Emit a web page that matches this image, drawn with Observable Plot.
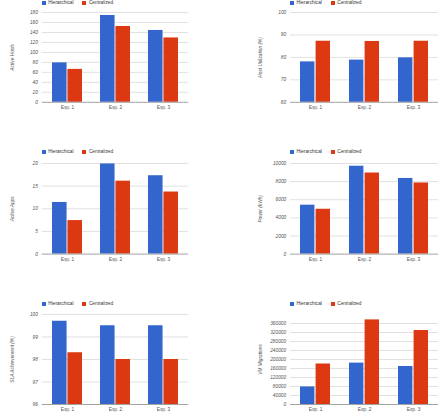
<!DOCTYPE html>
<html>
<head>
<meta charset="utf-8">
<script src="https://cdn.jsdelivr.net/npm/d3@7"></script>
<script src="https://cdn.jsdelivr.net/npm/@observablehq/plot@0.6"></script>
<style>
  html, body { margin: 0; padding: 0; background: #fff; }
  #board { position: relative; width: 441px; height: 416px; overflow: hidden; background: #fff;
           font-family: "Liberation Sans", Arial, sans-serif; }
  .panel { position: absolute; }
  .legend { position: absolute; display: flex; align-items: center; font-size: 4.8px; color: #333;
            height: 6px; line-height: 6px; white-space: nowrap; }
  .legend .item { display: flex; align-items: center; width: 40.6px; }
  .legend .sw { width: 4px; height: 4px; margin-right: 2.6px; flex: none; }
</style>
</head>
<body>
<div id="board"></div>
<script>
// Experiments and the two management approaches compared
const experiments = ["Exp. 1", "Exp. 2", "Exp. 3"];
const seriesNames = ["Hierarchical", "Centralized"];
const seriesColors = ["#3366cc", "#dc3912"];

// Active hosts
const activeHostsHierarchical = [79, 174, 144];
const activeHostsCentralized = [66, 152, 129];
const activeHostsTicks = [0, 20, 40, 60, 80, 100, 120, 140, 160, 180];

// Host utilization (%)
const hostUtilHierarchical = [78, 78.8, 79.8];
const hostUtilCentralized = [87.2, 87.1, 87.2];
const hostUtilTicks = [60, 70, 80, 90, 100];

// Active apps
const activeAppsHierarchical = [11.4, 19.9, 17.3];
const activeAppsCentralized = [7.4, 16.1, 13.7];
const activeAppsTicks = [0, 5, 10, 15, 20];

// Power (kWh)
const powerHierarchical = [5400, 9700, 8350];
const powerCentralized = [4950, 8950, 7850];
const powerTicks = [0, 2000, 4000, 6000, 8000, 10000];

// SLA achievement (%)
const slaHierarchical = [99.7, 99.5, 99.5];
const slaCentralized = [98.3, 98.0, 98.0];
const slaTicks = [96, 97, 98, 99, 100];

// VM migrations
const migrationsHierarchical = [78000, 184000, 169000];
const migrationsCentralized = [180000, 376000, 329000];
const migrationsTicks = [0, 40000, 80000, 120000, 160000, 200000, 240000, 280000, 320000, 360000];

const panels = [
  {title: "Active Hosts", h: activeHostsHierarchical, c: activeHostsCentralized, ticks: activeHostsTicks, domain: [0, 180], col: 0, row: 0},
  {title: "Host Utilization (%)", h: hostUtilHierarchical, c: hostUtilCentralized, ticks: hostUtilTicks, domain: [60, 100], col: 1, row: 0},
  {title: "Active Apps", h: activeAppsHierarchical, c: activeAppsCentralized, ticks: activeAppsTicks, domain: [0, 20], col: 0, row: 1},
  {title: "Power (kWh)", h: powerHierarchical, c: powerCentralized, ticks: powerTicks, domain: [0, 10000], col: 1, row: 1},
  {title: "SLA Achievement (%)", h: slaHierarchical, c: slaCentralized, ticks: slaTicks, domain: [96, 100], col: 0, row: 2},
  {title: "VM Migrations", h: migrationsHierarchical, c: migrationsCentralized, ticks: migrationsTicks, domain: [0, 400000], col: 1, row: 2}
];

// Grid layout: chart area edges for each column and row
const columns = [
  {cellX: 0, left: 41.7, right: 188.2, marginRight: 10},
  {cellX: 220, left: 290, right: 438, marginRight: 3}
];
const rows = [
  {top: 11.5, bottom: 101.3},
  {top: 162.7, bottom: 253.3},
  {top: 314.3, bottom: 404.3}
];

const board = document.getElementById("board");
const MT = 4, MB = 12;
const padInner = 0.38, padOuter = padInner / 2;

for (const p of panels) {
  const col = columns[p.col], row = rows[p.row];
  const width = col.right - col.cellX + col.marginRight;
  const height = row.bottom - row.top + MT + MB;
  const step = (col.right - col.left) / experiments.length;
  const half = step * (1 - padInner) / 2;
  const base = p.domain[0];

  const rowsH = experiments.map((exp, i) => ({exp, value: p.h[i]}));
  const rowsC = experiments.map((exp, i) => ({exp, value: p.c[i]}));

  const chart = Plot.plot({
    width, height,
    marginLeft: col.left - col.cellX,
    marginRight: col.marginRight,
    marginTop: MT,
    marginBottom: MB,
    style: {fontFamily: "'Liberation Sans', Arial, sans-serif", fontSize: "4.8px", background: "transparent", overflow: "visible"},
    x: {domain: experiments, paddingInner: padInner, paddingOuter: padOuter, label: null},
    y: {domain: p.domain, label: null},
    marks: [
      Plot.gridY(p.ticks.filter(t => t !== base), {stroke: "#cccccc", strokeOpacity: 1, strokeWidth: 0.6}),
      Plot.barY(rowsH, {x: "exp", y1: base, y2: "value", fill: seriesColors[0], insetRight: half + 0.3}),
      Plot.barY(rowsC, {x: "exp", y1: base, y2: "value", fill: seriesColors[1], insetLeft: half + 0.3}),
      Plot.ruleY([base], {stroke: "#8a8a8a", strokeWidth: 0.8}),
      Plot.axisY(p.ticks, {tickSize: 0, tickPadding: 4.3, tickFormat: "d", fill: "#555",
        label: p.title, labelAnchor: "center", labelOffset: 31.5, labelArrow: false, fontStyle: "italic"}),
      Plot.axisX({tickSize: 0, tickPadding: 3.5, fill: "#555", label: null})
    ]
  });
  const holder = document.createElement("div");
  holder.className = "panel";
  holder.style.left = col.cellX + "px";
  holder.style.top = (row.top - MT) + "px";
  holder.appendChild(chart);
  board.appendChild(holder);

  // Legend row above the chart area (kept inside the page on the top row)
  const legend = document.createElement("div");
  legend.className = "legend";
  legend.style.left = col.left + "px";
  legend.style.top = Math.max(0, row.top - 10.3 - 3) + "px";
  seriesNames.forEach((name, i) => {
    const item = document.createElement("div");
    item.className = "item";
    const sw = document.createElement("span");
    sw.className = "sw";
    sw.style.background = seriesColors[i];
    const label = document.createElement("span");
    label.textContent = name;
    item.appendChild(sw);
    item.appendChild(label);
    legend.appendChild(item);
  });
  board.appendChild(legend);
}
</script>
</body>
</html>
